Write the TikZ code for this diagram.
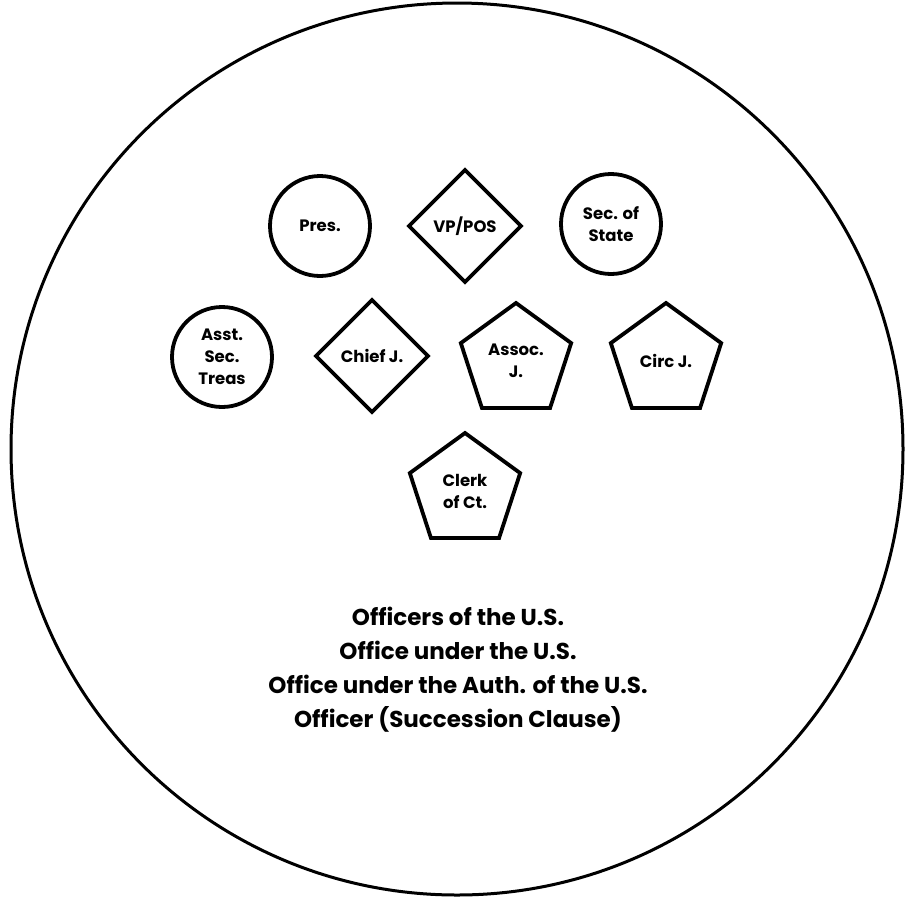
\documentclass[tikz,border=0pt]{standalone}
\usepackage{fontspec}
\setmainfont{Poppins}
\usetikzlibrary{shapes.geometric}
\begin{document}
\begin{tikzpicture}[x=1pt,y=-1pt,
  lbl/.style={font=\fontsize{16.5}{22}\selectfont\bfseries, align=center, inner sep=0pt, outer sep=0pt, line width=3.8pt, draw=black},
  office/.style={lbl, circle, minimum size=100pt},
  rank/.style={lbl, diamond, minimum width=112pt, minimum height=112pt},
  court/.style={lbl, regular polygon, regular polygon sides=5, minimum size=116pt},
  caption/.style={font=\fontsize{23}{34}\selectfont\bfseries, align=center, inner sep=0pt}
]
\useasboundingbox (0,0) rectangle (907,898);
% enclosing boundary
\node[circle, draw, line width=3pt, minimum size=892pt, inner sep=0pt] (outer) at (457,449) {};

% first row
\node[office] (pres) at (320,226) {Pres.};
\node[rank]   (vp)   at (465,226) {VP/POS};
\node[office] (sec)  at (611,224) {Sec. of\\State};

% second row
\node[office] (treas) at (222,357) {Asst.\\Sec.\\Treas};
\node[rank]   (chief) at (372,356) {Chief J.};
\node[court]  (assoc) at (516,361) {Assoc.\\J.};
\node[court]  (circ)  at (666,361) {Circ J.};

% third row
\node[court]  (clerk) at (465,491) {Clerk\\of Ct.};

% categories
\node[caption] (cats) at (458,670) {Officers of the U.S.\\Office under the U.S.\\Office under the Auth. of the U.S.\\Officer (Succession Clause)};
\end{tikzpicture}
\end{document}
